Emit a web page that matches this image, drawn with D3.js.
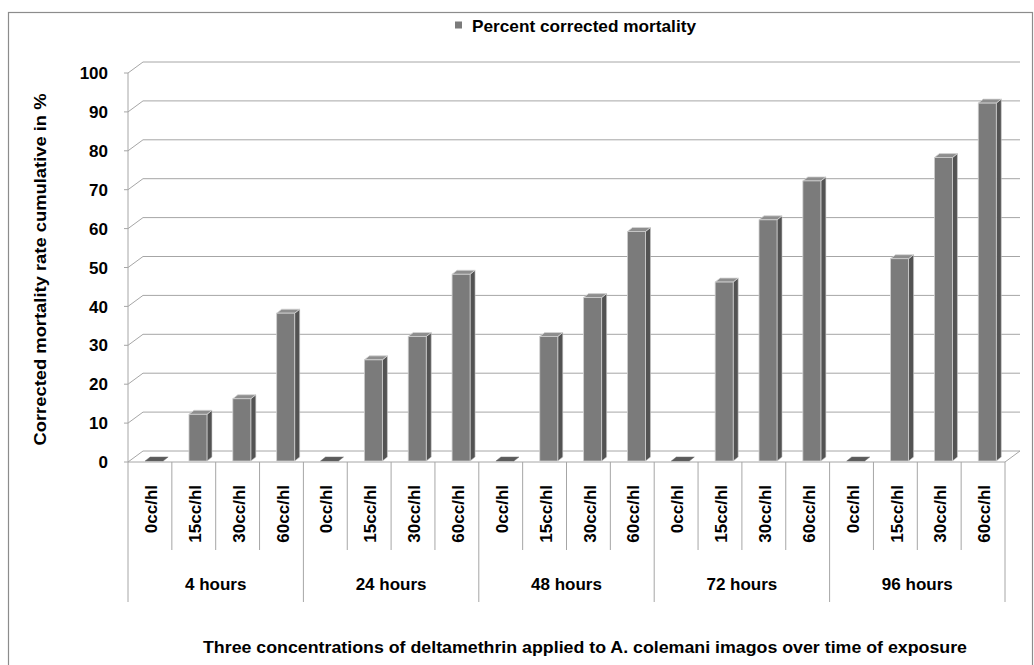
<!DOCTYPE html>
<html>
<head>
<meta charset="utf-8">
<script src="https://cdnjs.cloudflare.com/ajax/libs/d3/7.8.5/d3.min.js"></script>
<style>
  html, body { margin: 0; padding: 0; background: #fff; }
  svg { display: block; }
  text { font-family: "Liberation Sans", Arial, sans-serif; font-weight: bold; fill: #000; }
</style>
</head>
<body>
<svg id="chart" width="1034" height="665"></svg>
<script>
const groups = ["4 hours", "24 hours", "48 hours", "72 hours", "96 hours"];
const concentrations = ["0cc/hl", "15cc/hl", "30cc/hl", "60cc/hl"];
const mortality4h  = [0, 12, 16, 38];
const mortality24h = [0, 26, 32, 48];
const mortality48h = [0, 32, 42, 59];
const mortality72h = [0, 46, 62, 72];
const mortality96h = [0, 52, 78, 92];
const yTicks = [0, 10, 20, 30, 40, 50, 60, 70, 80, 90, 100];
const seriesName = "Percent corrected mortality";
const yTitle = "Corrected mortality rate  cumulative in %";
const xTitle = "Three concentrations of deltamethrin applied to A. colemani imagos over time of exposure";

(function () {
const allValues = [mortality4h, mortality24h, mortality48h, mortality72h, mortality96h];
const data = [];
groups.forEach((g, gi) => concentrations.forEach((c, ci) => {
  data.push({ key: g + "|" + c, group: g, conc: c, value: allValues[gi][ci] });
}));

const svg = d3.select("#chart");
const DX = 15, DY = 11;
const pLeft = 128, pRight = 1005, pBottom = 462, pTop = 73;

const x = d3.scaleBand().domain(data.map(d => d.key)).range([pLeft, pRight]).padding(0);
const y = d3.scaleLinear().domain([0, 100]).range([pBottom, pTop]);
const bw = x.bandwidth();

// outer border
svg.append("rect").attr("x", 8.5).attr("y", 12.5).attr("width", 1024).attr("height", 700)
  .attr("fill", "none").attr("stroke", "#8c8c8c").attr("stroke-width", 1.2);

const gridColor = "#a6a6a6";
svg.append("g").selectAll("path").data(yTicks).join("path")
  .attr("d", t => `M${pLeft},${y(t)}L${pLeft + DX},${y(t) - DY}L${pRight + DX},${y(t) - DY}`)
  .attr("fill", "none").attr("stroke", gridColor).attr("stroke-width", 1);

svg.append("path")
  .attr("d", `M${pLeft},${y(0)}L${pRight},${y(0)}L${pRight + DX},${y(0) - DY}`)
  .attr("fill", "none").attr("stroke", gridColor).attr("stroke-width", 1);

svg.append("line").attr("x1", pLeft).attr("x2", pLeft).attr("y1", y(100)).attr("y2", y(0))
  .attr("stroke", gridColor);
svg.append("g").selectAll("line").data(yTicks).join("line")
  .attr("x1", pLeft - 4).attr("x2", pLeft).attr("y1", t => y(t)).attr("y2", t => y(t))
  .attr("stroke", gridColor);
svg.append("g").selectAll("text").data(yTicks).join("text")
  .attr("x", 108).attr("y", t => y(t)).attr("dy", "0.36em")
  .attr("text-anchor", "end").attr("font-size", 17).text(t => t);

const boundaries = d3.range(data.length + 1).map(i => pLeft + i * bw);
svg.append("g").selectAll("line").data(boundaries).join("line")
  .attr("x1", b => b).attr("x2", b => b).attr("y1", y(0))
  .attr("y2", (b, i) => (i % concentrations.length === 0) ? 602 : 550)
  .attr("stroke", gridColor);

const barW = 18, bDX = 5, bDY = 4, shift = -4.8;
const barG = svg.append("g");
data.forEach(d => {
  const cx = x(d.key) + bw / 2;
  const x0 = cx + shift, x1 = x0 + barW;
  const yb = y(0) - 1, yt = y(d.value) - 1;
  if (d.value === 0) {
    barG.append("path")
      .attr("d", `M${x0},${yb}L${x1},${yb}L${x1 + bDX},${yb - bDY}L${x0 + bDX},${yb - bDY}Z`)
      .attr("fill", "#5a5a5a").attr("stroke", "#6e6e6e").attr("stroke-width", 0.5);
    return;
  }
  barG.append("path")
    .attr("d", `M${x1},${yb}L${x1},${yt}L${x1 + bDX},${yt - bDY}L${x1 + bDX},${yb - bDY}Z`)
    .attr("fill", "#535353").attr("stroke", "#c8c8c8").attr("stroke-width", 0.6);
  barG.append("path")
    .attr("d", `M${x0},${yt}L${x1},${yt}L${x1 + bDX},${yt - bDY}L${x0 + bDX},${yt - bDY}Z`)
    .attr("fill", "#8e8e8e").attr("stroke", "#d4d4d4").attr("stroke-width", 0.8);
  barG.append("rect")
    .attr("x", x0).attr("y", yt).attr("width", barW).attr("height", yb - yt)
    .attr("fill", "#7b7b7b").attr("stroke", "#cfcfcf").attr("stroke-width", 0.8);
});

svg.append("g").selectAll("text").data(data).join("text")
  .attr("transform", d => `translate(${x(d.key) + bw / 2 + 1},485) rotate(-90)`)
  .attr("text-anchor", "end").attr("dy", "0.36em").attr("font-size", 17)
  .text(d => d.conc);

const groupW = bw * concentrations.length;
svg.append("g").selectAll("text").data(groups).join("text")
  .attr("x", (g, i) => pLeft + groupW * (i + 0.5)).attr("y", 584).attr("dy", "0.36em")
  .attr("text-anchor", "middle").attr("font-size", 17).text(g => g);

svg.append("text")
  .attr("transform", `translate(40,${(y(0) + y(100)) / 2 + 2}) rotate(-90)`)
  .attr("text-anchor", "middle").attr("dy", "0.36em").attr("font-size", 16)
  .attr("textLength", 352).attr("lengthAdjust", "spacingAndGlyphs")
  .text(yTitle);

svg.append("text")
  .attr("x", 585).attr("y", 647).attr("dy", "0.36em")
  .attr("text-anchor", "middle").attr("font-size", 17)
  .attr("textLength", 764).attr("lengthAdjust", "spacingAndGlyphs")
  .text(xTitle);

svg.append("rect").attr("x", 455).attr("y", 21.5).attr("width", 7).attr("height", 7)
  .attr("fill", "#7b7b7b");
svg.append("text").attr("x", 472).attr("y", 26).attr("dy", "0.36em")
  .attr("font-size", 17).attr("textLength", 224).attr("lengthAdjust", "spacingAndGlyphs")
  .text(seriesName);
})();
</script>
</body>
</html>
